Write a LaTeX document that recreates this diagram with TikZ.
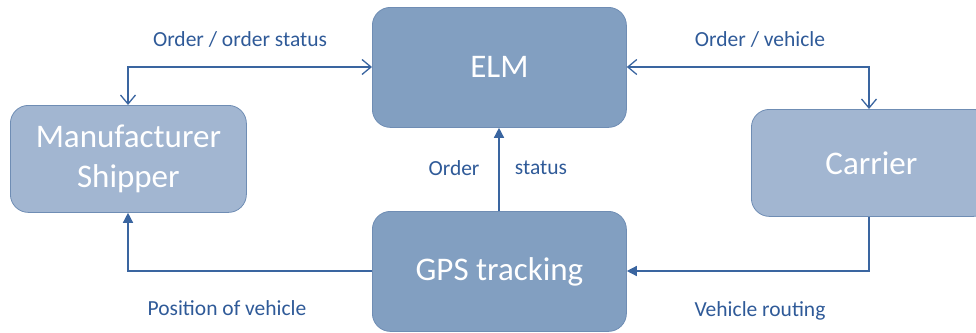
\documentclass[tikz,border=0pt]{standalone}
\usepackage{fontspec}
\setmainfont{Carlito}
\usetikzlibrary{arrows.meta}
\definecolor{boxdark}{HTML}{829FC1}
\definecolor{boxlight}{HTML}{A2B6D1}
\definecolor{boxedge}{HTML}{6F8DB4}
\definecolor{linec}{HTML}{3A65A0}
\definecolor{labelc}{HTML}{2F5A98}
\begin{document}
\begin{tikzpicture}[x=1pt,y=-1pt,
  box/.style={draw=boxedge, line width=0.8pt, rounded corners=18pt, text=white,
    font=\fontsize{33}{40}\selectfont, align=center, inner sep=0pt, anchor=north west},
  conn/.style={draw=linec, line width=1.4pt},
  bothopen/.style={{Straight Barb[length=9pt,width=15pt,line width=1.3pt]}-{Straight Barb[length=9pt,width=15pt,line width=1.3pt]}},
  solidhead/.style={-{Triangle[length=10pt,width=10pt]}},
  lbl/.style={text=labelc, font=\fontsize{21.5}{24}\selectfont, inner sep=0pt}]
\useasboundingbox (0,0) rectangle (976,332);
\node[box, fill=boxdark, minimum width=254pt, minimum height=120pt] (elm) at (372,7) {ELM};
\node[box, fill=boxlight, minimum width=236pt, minimum height=107pt] (man) at (10,105) {Manufacturer\\Shipper};
\node[box, fill=boxlight, minimum width=240pt, minimum height=107pt] (car) at (751,109) {Carrier};
\node[box, fill=boxdark, minimum width=254pt, minimum height=120pt] (gps) at (372,211) {GPS tracking};
\coordinate (c1) at (128,67);
\coordinate (c2) at (869,67);
\coordinate (c3) at (128,271);
\coordinate (c4) at (869,271);
\draw[conn, bothopen] (man.north -| c1) -- (c1) -- (elm.west |- c1);
\draw[conn, bothopen] (elm.east |- c2) -- (c2) -- (car.north -| c2);
\draw[conn, solidhead] (gps.north -| 499,0) -- (elm.south -| 499,0);
\draw[conn, solidhead] (gps.west |- c3) -- (c3) -- (man.south -| c3);
\draw[conn, solidhead] (car.south -| c4) -- (c4) -- (gps.east |- c4);
\node[lbl] (l1) at (240,39) {Order / order status};
\node[lbl] (l2) at (760,39) {Order / vehicle};
\node[lbl] (l3) at (454,168) {Order};
\node[lbl] (l4) at (541,168) {status};
\node[lbl] (l5) at (227,308) {Position of vehicle};
\node[lbl] (l6) at (760,311) {Vehicle routing};
\end{tikzpicture}
\end{document}
